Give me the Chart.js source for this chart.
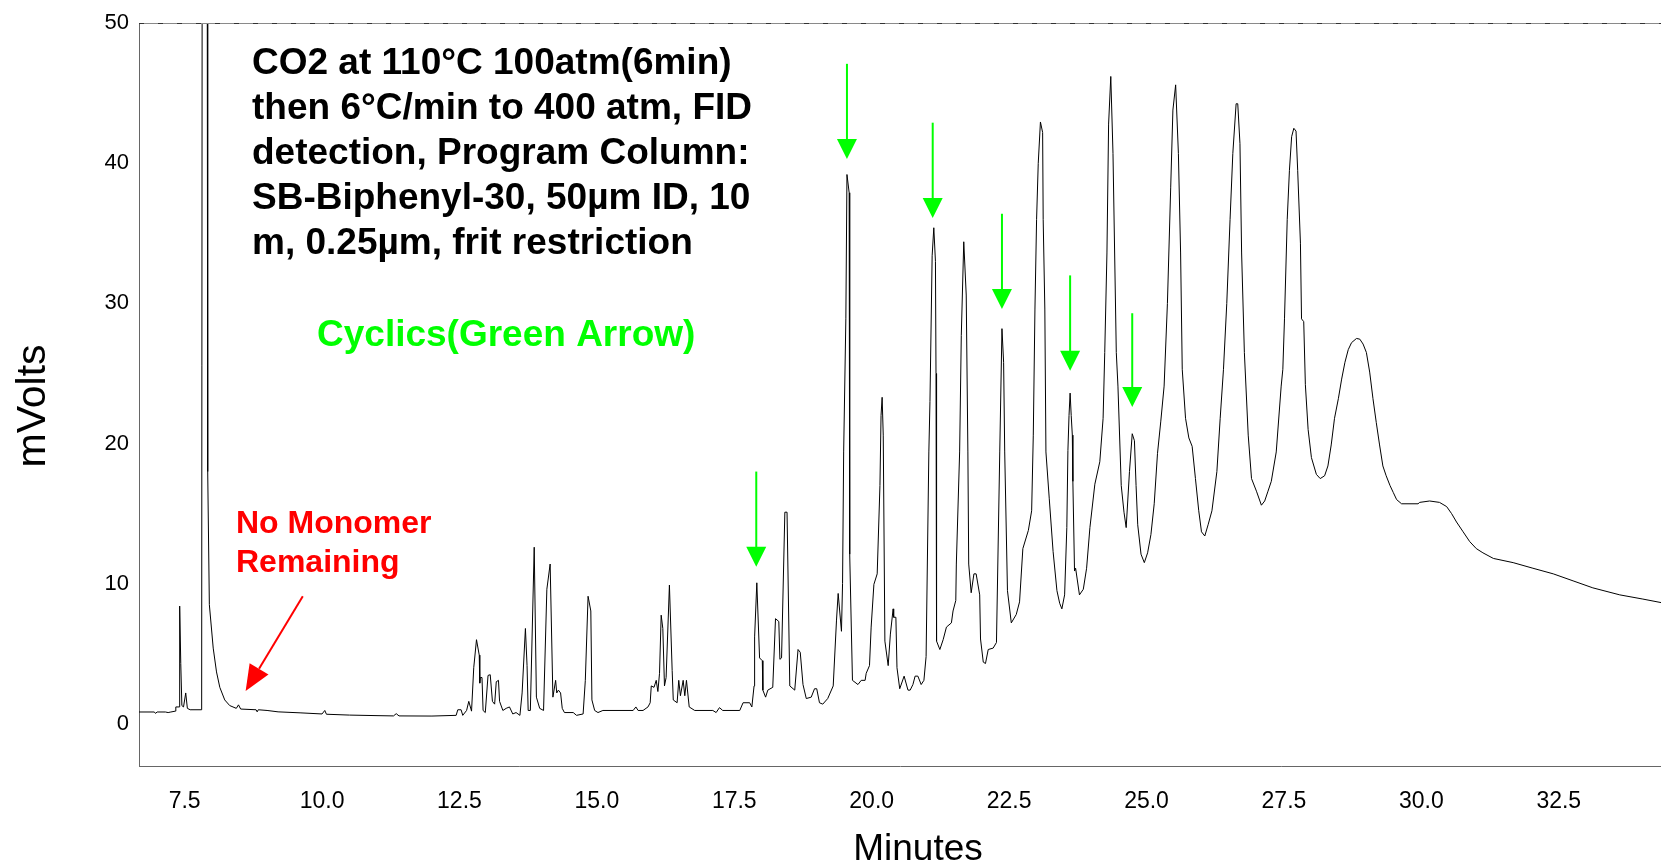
<!DOCTYPE html>
<html>
<head>
<meta charset="utf-8">
<title>Chromatogram</title>
<script src="https://cdn.jsdelivr.net/npm/chart.js@4.4.0/dist/chart.umd.min.js"></script>
<style>
  html, body { margin: 0; padding: 0; background: #fff; }
  #wrap { width: 1661px; height: 864px; }
</style>
</head>
<body>
<div id="wrap"><canvas id="chromChart" width="1661" height="864"></canvas></div>
<script>
// retention time (min) and detector signal (mV)
const retentionMin = [
  6.66, 6.95, 6.97, 7.00, 7.15, 7.20, 7.25, 7.33, 7.34, 7.40, 7.41, 7.43, 7.45, 7.48, 7.52, 7.55, 7.60, 7.81,
  7.82, 7.91, 7.92, 7.95, 8.02, 8.08, 8.14, 8.23, 8.32, 8.44, 8.48, 8.52, 8.80, 8.82, 8.84, 9.00, 9.20, 9.60,
  10.0, 10.05, 10.08, 10.5, 11.0, 11.3, 11.35, 11.4, 12.0, 12.44, 12.47, 12.53, 12.56, 12.63, 12.67, 12.72,
  12.76, 12.81, 12.86, 12.87, 12.88, 12.91, 12.93, 12.97, 13.02, 13.06, 13.10, 13.14, 13.17, 13.21, 13.23,
  13.29, 13.35, 13.41, 13.47, 13.53, 13.60, 13.64, 13.70, 13.73, 13.75, 13.79, 13.86, 13.90, 13.96, 14.03,
  14.09, 14.15, 14.20, 14.25, 14.27, 14.30, 14.34, 14.37, 14.41, 14.57, 14.63, 14.75, 14.79, 14.84, 14.89,
  14.91, 14.96, 15.02, 15.11, 15.66, 15.71, 15.75, 15.84, 15.93, 15.97, 15.99, 16.04, 16.08, 16.11, 16.14,
  16.17, 16.20, 16.23, 16.26, 16.32, 16.37, 16.39, 16.46, 16.49, 16.52, 16.57, 16.60, 16.63, 16.68, 16.78,
  17.11, 17.17, 17.23, 17.29, 17.60, 17.66, 17.78, 17.82, 17.86, 17.87, 17.91, 17.96, 18.01, 18.02, 18.07,
  18.11, 18.20, 18.25, 18.31, 18.33, 18.36, 18.42, 18.46, 18.51, 18.60, 18.66, 18.70, 18.75, 18.81, 18.90,
  18.96, 19.00, 19.05, 19.11, 19.20, 19.30, 19.36, 19.39, 19.45, 19.47, 19.49, 19.53, 19.55, 19.59, 19.60,
  19.65, 19.75, 19.81, 19.88, 19.90, 19.96, 19.99, 20.04, 20.10, 20.15, 20.17, 20.19, 20.21, 20.24, 20.30,
  20.34, 20.39, 20.40, 20.44, 20.46, 20.51, 20.59, 20.66, 20.70, 20.75, 20.79, 20.84, 20.90, 20.95, 20.99,
  21.04, 21.06, 21.10, 21.13, 21.16, 21.17, 21.18, 21.24, 21.30, 21.36, 21.45, 21.48, 21.53, 21.54, 21.60,
  21.63, 21.675, 21.72, 21.75, 21.765, 21.81, 21.86, 21.90, 21.965, 21.98, 22.03, 22.07, 22.12, 22.21,
  22.27, 22.33, 22.37, 22.40, 22.42, 22.47, 22.54, 22.63, 22.69, 22.75, 22.85, 22.91, 22.94, 22.97, 23.00,
  23.03, 23.07, 23.11, 23.12, 23.15, 23.17, 23.23, 23.30, 23.37, 23.42, 23.46, 23.51, 23.55, 23.57, 23.59,
  23.61, 23.63, 23.65, 23.66, 23.69, 23.71, 23.78, 23.85, 23.91, 23.97, 24.06, 24.15, 24.21, 24.24, 24.28,
  24.31, 24.35, 24.39, 24.45, 24.48, 24.54, 24.59, 24.63, 24.69, 24.74, 24.78, 24.81, 24.84, 24.90, 24.96,
  25.02, 25.08, 25.14, 25.20, 25.26, 25.32, 25.38, 25.44, 25.48, 25.53, 25.58, 25.62, 25.65, 25.71, 25.77,
  25.83, 25.89, 25.95, 26.00, 26.06, 26.12, 26.19, 26.28, 26.34, 26.40, 26.46, 26.52, 26.57, 26.63, 26.66,
  26.70, 26.73, 26.78, 26.85, 26.91, 27.00, 27.09, 27.15, 27.21, 27.27, 27.36, 27.45, 27.48, 27.51, 27.56,
  27.60, 27.64, 27.68, 27.72, 27.75, 27.80, 27.82, 27.86, 27.89, 27.94, 28.00, 28.09, 28.16, 28.24, 28.30,
  28.36, 28.42, 28.49, 28.55, 28.61, 28.67, 28.73, 28.82, 28.88, 28.94, 29.00, 29.06, 29.12, 29.18, 29.24,
  29.30, 29.36, 29.43, 29.49, 29.55, 29.64, 29.94, 29.97, 30.15, 30.33, 30.46, 30.55, 30.64, 30.76, 30.88,
  31.00, 31.12, 31.31, 31.67, 32.03, 32.40, 32.76, 33.12, 33.61, 34.03, 34.36
];
const signalMv = [
  0.84, 0.84, 0.74, 0.84, 0.84, 0.80, 0.84, 0.90, 1.20, 1.20, 8.40, 4.30, 1.30, 1.20, 2.20, 1.10, 1.00, 1.00,
  60, 60, 18.0, 8.5, 5.4, 3.7, 2.6, 1.7, 1.3, 1.1, 1.35, 1.05, 1.00, 0.85, 1.00, 0.95, 0.85, 0.78,
  0.70, 0.95, 0.68, 0.62, 0.58, 0.56, 0.72, 0.56, 0.55, 0.60, 1.00, 1.00, 0.60, 0.95, 1.60, 0.90,
  4.00, 6.00, 4.90, 2.90, 3.30, 3.30, 0.95, 0.80, 3.45, 3.50, 1.60, 1.40, 3.00, 3.10, 1.60,
  0.95, 1.10, 1.20, 0.70, 0.80, 0.60, 2.20, 6.80, 4.15, 0.95, 0.95, 12.6, 1.90, 1.10, 0.95,
  9.60, 11.4, 1.90, 3.10, 2.20, 2.40, 2.20, 1.10, 0.80, 0.80, 0.60, 0.70, 3.10, 9.10, 8.05,
  1.70, 0.95, 0.80, 0.95, 0.95, 1.20, 0.95, 0.95, 1.20, 1.50, 2.70, 2.60, 3.10, 2.30, 3.60,
  7.75, 6.80, 2.70, 3.30, 9.90, 3.80, 1.70, 1.50, 3.10, 2.00, 3.10, 2.00, 3.10, 1.20, 0.95,
  0.95, 0.80, 1.15, 0.95, 0.95, 1.50, 1.50, 1.20, 2.70, 6.20, 10.06, 4.70, 4.50, 2.40, 1.90,
  2.40, 2.60, 7.50, 7.30, 4.60, 4.70, 15.1, 15.1, 2.70, 2.40, 5.30, 5.10, 2.80, 1.80, 1.90,
  2.50, 2.50, 1.50, 1.40, 1.80, 2.70, 7.40, 9.30, 6.60, 10.0, 19.4, 28.9, 39.2, 37.9, 12.1,
  3.10, 2.80, 3.10, 3.10, 3.60, 4.15, 6.90, 9.95, 10.7, 17.0, 22.0, 23.3, 20.6, 5.90, 4.15,
  6.40, 8.20, 7.60, 7.60, 4.00, 2.50, 3.40, 2.40, 2.40, 2.80, 3.40, 3.40, 2.80, 3.10, 4.80,
  19.4, 23.0, 33.4, 35.4, 33.0, 25.0, 5.90, 5.30, 6.00, 6.90, 7.20, 8.05, 8.80, 11.4, 19.4,
  27.7, 34.4, 30.6, 19.4, 11.4, 9.35, 10.7, 10.7, 9.20, 6.05, 4.40, 4.30, 5.30, 5.40,
  5.80, 19.4, 28.2, 25.8, 19.4, 9.50, 7.20, 7.80, 8.70, 12.5, 13.8, 15.2, 20.6, 29.6, 36.0,
  40.0, 42.95, 42.2, 36.0, 29.6, 19.4, 16.1, 12.3, 9.50, 8.60, 8.20, 9.20, 14.0, 19.5, 22.0,
  23.6, 22.0, 20.6, 17.3, 10.9, 11.1, 9.20, 9.60, 11.1, 14.0, 17.1, 18.7, 21.8, 26.5, 33.6,
  42.8, 46.2, 40.7, 26.5, 24.1, 17.0, 15.1, 14.0, 18.0, 20.7, 20.2, 17.0, 14.2, 12.1, 11.5,
  12.2, 13.5, 15.7, 19.3, 21.6, 24.1, 30.0, 38.3, 43.8, 45.6, 40.7, 33.6, 25.3, 21.8, 20.4,
  19.8, 17.5, 15.2, 13.7, 13.4, 14.2, 15.2, 18.0, 21.8, 25.3, 30.0, 36.0, 40.7, 44.25, 44.25,
  41.4, 33.6, 26.5, 20.6, 17.5, 16.6, 15.6, 15.9, 16.6, 17.3, 19.4, 24.1, 25.3, 28.9, 36.0,
  39.5, 41.9, 42.5, 42.3, 39.5, 34.3, 28.9, 28.7, 24.2, 21.0, 19.0, 17.8, 17.5, 17.7, 18.4,
  19.9, 21.8, 23.2, 24.6, 25.8, 26.7, 27.2, 27.5, 27.45, 27.1, 26.5, 25.1, 23.2, 21.5, 19.9,
  18.4, 17.7, 17.0, 16.5, 16.0, 15.7, 15.7, 15.8, 15.9, 15.8, 15.5, 15.0, 14.4, 13.7, 13.0,
  12.5, 12.2, 11.8, 11.5, 11.1, 10.7, 10.2, 9.70, 9.20, 8.90, 8.65
];

// axis ticks
const xTickValues = [7.5, 10, 12.5, 15, 17.5, 20, 22.5, 25, 27.5, 30, 32.5];
const yTickValues = [0, 10, 20, 30, 40, 50];

// green arrows over the cyclic peaks: time, shaft top, tip (mV)
const cyclicTimes = [17.90, 19.55, 21.11, 22.37, 23.61, 24.74];
const cyclicArrowTops = [18.0, 47.1, 42.9, 36.4, 32.0, 29.3];
const cyclicArrowTips = [11.2, 40.3, 36.1, 29.6, 25.2, 22.6];

// red arrow: start then tip
const monomerArrowTimes = [9.65, 8.61];
const monomerArrowMv = [9.1, 2.33];

const methodLines = [
  'CO2 at 110°C 100atm(6min)',
  'then 6°C/min to 400 atm, FID',
  'detection, Program Column:',
  'SB-Biphenyl-30, 50µm ID, 10',
  'm, 0.25µm, frit restriction'
];
const monomerLines = ['No Monomer', 'Remaining'];
const cyclicLabel = 'Cyclics(Green Arrow)';

const FONT = '"Liberation Sans", Arial, Helvetica, sans-serif';
const GREEN = '#00ff00';
const RED = '#ff0000';

const annotations = {
  id: 'annotations',
  afterDraw(chart) {
    const { ctx, chartArea: area, scales: { x, y } } = chart;
    ctx.save();

    // top frame line (grey with darker dashes)
    ctx.lineWidth = 1;
    ctx.strokeStyle = '#8a8a8a';
    ctx.beginPath();
    ctx.moveTo(area.left, Math.round(area.top) + 0.5);
    ctx.lineTo(area.right, Math.round(area.top) + 0.5);
    ctx.stroke();
    ctx.setLineDash([5, 14]);
    ctx.strokeStyle = '#333';
    ctx.beginPath();
    ctx.moveTo(area.left, Math.round(area.top) + 0.5);
    ctx.lineTo(area.right, Math.round(area.top) + 0.5);
    ctx.stroke();
    ctx.setLineDash([]);

    // green arrows
    ctx.strokeStyle = GREEN;
    ctx.fillStyle = GREEN;
    ctx.lineWidth = 2;
    cyclicTimes.forEach((t, i) => {
      const px = x.getPixelForValue(t);
      const top = y.getPixelForValue(cyclicArrowTops[i]);
      const tip = y.getPixelForValue(cyclicArrowTips[i]);
      ctx.beginPath();
      ctx.moveTo(px, top);
      ctx.lineTo(px, tip - 18);
      ctx.stroke();
      ctx.beginPath();
      ctx.moveTo(px - 10, tip - 20);
      ctx.lineTo(px + 10, tip - 20);
      ctx.lineTo(px, tip);
      ctx.closePath();
      ctx.fill();
    });

    // red arrow
    const x1 = x.getPixelForValue(monomerArrowTimes[0]);
    const y1 = y.getPixelForValue(monomerArrowMv[0]);
    const x2 = x.getPixelForValue(monomerArrowTimes[1]);
    const y2 = y.getPixelForValue(monomerArrowMv[1]);
    const ang = Math.atan2(y2 - y1, x2 - x1);
    const headLen = 26, headHalf = 11;
    const bx = x2 - headLen * Math.cos(ang), by = y2 - headLen * Math.sin(ang);
    ctx.strokeStyle = RED;
    ctx.fillStyle = RED;
    ctx.lineWidth = 2;
    ctx.beginPath();
    ctx.moveTo(x1, y1);
    ctx.lineTo(bx, by);
    ctx.stroke();
    ctx.beginPath();
    ctx.moveTo(x2, y2);
    ctx.lineTo(bx + headHalf * Math.sin(ang), by - headHalf * Math.cos(ang));
    ctx.lineTo(bx - headHalf * Math.sin(ang), by + headHalf * Math.cos(ang));
    ctx.closePath();
    ctx.fill();

    // text blocks
    ctx.textAlign = 'left';
    ctx.textBaseline = 'alphabetic';
    ctx.fillStyle = '#000';
    ctx.font = 'bold 37px ' + FONT;
    methodLines.forEach((line, i) => ctx.fillText(line, 252, 74 + i * 45));

    ctx.fillStyle = GREEN;
    ctx.fillText(cyclicLabel, 317, 346);

    ctx.fillStyle = RED;
    ctx.font = 'bold 32px ' + FONT;
    monomerLines.forEach((line, i) => ctx.fillText(line, 236, 533 + i * 39));

    // axis titles
    ctx.fillStyle = '#000';
    ctx.font = '37px ' + FONT;
    ctx.textAlign = 'center';
    ctx.fillText('Minutes', 918, 860);

    ctx.translate(45, 406);
    ctx.rotate(-Math.PI / 2);
    ctx.font = '41px ' + FONT;
    ctx.fillText('mVolts', 0, 0);

    ctx.restore();
  }
};

new Chart(document.getElementById('chromChart'), {
  type: 'line',
  data: {
    datasets: [{
      label: 'FID signal',
      data: retentionMin.map((t, i) => ({ x: t, y: signalMv[i] })),
      borderColor: '#000',
      borderWidth: 1,
      pointRadius: 0,
      tension: 0,
      fill: false
    }]
  },
  options: {
    responsive: false,
    animation: false,
    devicePixelRatio: 1,
    layout: { padding: { top: 19, right: 0, bottom: 0, left: 0 } },
    plugins: { legend: { display: false }, tooltip: { enabled: false } },
    scales: {
      x: {
        type: 'linear',
        min: 6.67,
        max: 34.36,
        grid: { display: false, drawTicks: false },
        border: { display: true, color: '#666', width: 1 },
        afterBuildTicks: (scale) => { scale.ticks = xTickValues.map(v => ({ value: v })); },
        afterFit: (scale) => { scale.height = 97.5; },
        ticks: {
          autoSkip: false,
          maxRotation: 0,
          padding: 21,
          color: '#000',
          font: { family: FONT, size: 23 },
          callback: (v) => Number(v).toFixed(1)
        }
      },
      y: {
        min: -3.05,
        max: 50,
        grid: { display: false, drawTicks: false },
        border: { display: true, color: '#666', width: 1 },
        afterBuildTicks: (scale) => { scale.ticks = yTickValues.map(v => ({ value: v })); },
        afterFit: (scale) => { scale.width = 139; },
        ticks: {
          padding: 10,
          color: '#000',
          font: { family: FONT, size: 22 }
        }
      }
    }
  },
  plugins: [annotations]
});
</script>
</body>
</html>
